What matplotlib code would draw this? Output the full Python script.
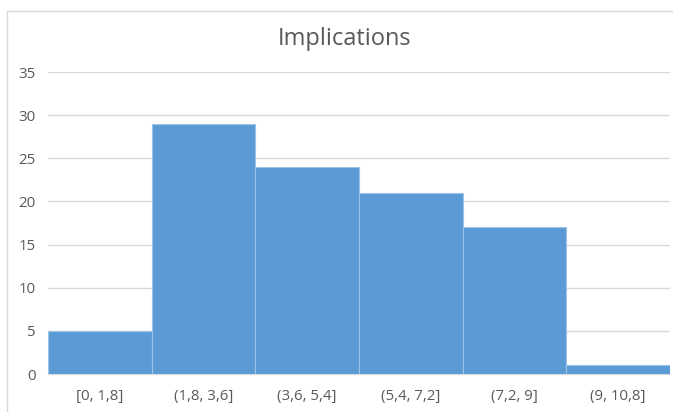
import matplotlib
matplotlib.use("Agg")
import matplotlib.pyplot as plt
from matplotlib.patches import Rectangle

plt.rcParams['font.family'] = ['Open Sans', 'DejaVu Sans']

bins = ["[0, 1,8]", "(1,8, 3,6]", "(3,6, 5,4]", "(5,4, 7,2]", "(7,2, 9]", "(9, 10,8]"]
counts = [5, 29, 24, 21, 17, 1]
yticks = [0, 5, 10, 15, 20, 25, 30, 35]

fig = plt.figure(figsize=(6.73, 4.12), dpi=100)
W, H = 673, 412

# chart frame
fig.patches.append(Rectangle((7 / W, -0.05), 1.0, (412 - 11) / H + 0.05,
                             transform=fig.transFigure, fill=False,
                             edgecolor="#D9D9D9", linewidth=1.0))

ax = fig.add_axes([48 / W, (412 - 374) / H, (670 - 48) / W, (374 - 72) / H])
x = list(range(len(bins)))
ax.bar(x, counts, width=1.0, color="#5B9BD5", edgecolor="#9DC3E6",
       linewidth=0.8, zorder=3)

ax.set_xlim(-0.5, len(bins) - 0.5)
ax.set_ylim(0, 35)
ax.set_yticks(yticks)
ax.set_xticks(x)
ax.set_xticklabels(bins)
ax.grid(axis="y", color="#D9D9D9", linewidth=1.0, zorder=0)
for s in ["top", "right", "left"]:
    ax.spines[s].set_visible(False)
ax.spines["bottom"].set_color("#D9D9D9")
ax.tick_params(axis="both", length=0, colors="#595959", labelsize=10.8)
ax.tick_params(axis="x", pad=11)
ax.tick_params(axis="y", pad=9)

fig.text(345 / W, 1 - 39 / H, "Implications", ha="center", va="center",
         fontsize=17, color="#595959")

fig.savefig("out.png", dpi=100)
